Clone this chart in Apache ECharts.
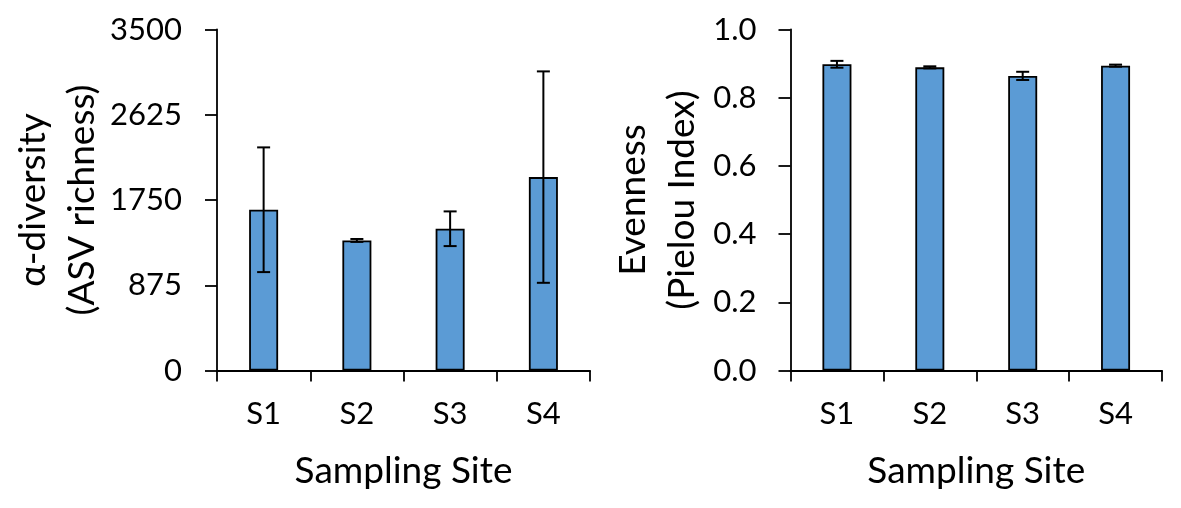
<!DOCTYPE html>
<html>
<head>
<meta charset="utf-8">
<script src="https://cdn.jsdelivr.net/npm/echarts@6/dist/echarts.min.js"></script>
<style>
  html, body { margin: 0; padding: 0; background: #fff; }
  #chart { width: 1181px; height: 508px; }
</style>
</head>
<body>
<div id="chart"></div>
<script>
const sites = ['S1', 'S2', 'S3', 'S4']
const richness = [1650, 1335, 1455, 1985]
const richnessErr = [640, 15, 178, 1085]
const evenness = [0.898, 0.889, 0.864, 0.894]
const evennessErr = [0.010, 0.003, 0.012, 0.003]
const richnessTicks = { min: 0, max: 3500, interval: 875 }
const evennessTicks = { min: 0, max: 1, interval: 0.2 }

const font = 'Lato, "Open Sans", sans-serif'
const barColor = '#5B9BD5'

const chart = echarts.init(document.getElementById('chart'))

// error bar: vertical line with caps, drawn from [index, mean, err]
function errorItem(params, api) {
  const i = api.value(0)
  const mean = api.value(1)
  const err = api.value(2)
  const top = api.coord([i, mean + err])
  const bottom = api.coord([i, mean - err])
  const half = 6.5
  const style = { stroke: '#000', lineWidth: 2 }
  return {
    type: 'group',
    children: [
      { type: 'line', shape: { x1: top[0], y1: top[1], x2: bottom[0], y2: bottom[1] }, style },
      { type: 'line', shape: { x1: top[0] - half, y1: top[1], x2: top[0] + half, y2: top[1] }, style },
      { type: 'line', shape: { x1: bottom[0] - half, y1: bottom[1], x2: bottom[0] + half, y2: bottom[1] }, style }
    ]
  }
}

function xAxis(gridIndex) {
  return {
    type: 'category',
    gridIndex,
    data: sites,
    name: 'Sampling Site',
    nameLocation: 'middle',
    nameGap: 82,
    nameTextStyle: { fontFamily: font, fontSize: 37, color: '#000', lineHeight: 37 },
    axisLine: { lineStyle: { color: '#000', width: 1.8 } },
    axisTick: { show: true, length: 11, lineStyle: { color: '#000', width: 1.8 } },
    axisLabel: { fontFamily: font, fontSize: 31, color: '#000', margin: 27, lineHeight: 32 },
    splitLine: { show: false }
  }
}

function yAxis(gridIndex, ticks, name, nameGap, margin, fmt) {
  return {
    type: 'value',
    gridIndex,
    min: ticks.min,
    max: ticks.max,
    interval: ticks.interval,
    name,
    nameLocation: 'middle',
    nameGap,
    nameTextStyle: { fontFamily: font, fontSize: 37, color: '#000', lineHeight: 49 },
    axisLine: { show: true, lineStyle: { color: '#000', width: 1.8 } },
    axisTick: { show: true, length: 12, lineStyle: { color: '#000', width: 1.8 } },
    axisLabel: { fontFamily: font, fontSize: 31, color: '#000', margin, formatter: fmt },
    splitLine: { show: false }
  }
}

chart.setOption({
  animation: false,
  grid: [
    { left: 217, right: 591, top: 29.5, bottom: 137.5 },
    { left: 790.5, right: 19, top: 29.5, bottom: 137.5 }
  ],
  xAxis: [xAxis(0), xAxis(1)],
  yAxis: [
    yAxis(0, richnessTicks, 'α-diversity\n(ASV richness)', 110, 35, v => String(v)),
    yAxis(1, evennessTicks, 'Evenness\n(Pielou Index)', 84, 34, v => v.toFixed(1))
  ],
  series: [
    {
      type: 'bar',
      xAxisIndex: 0,
      yAxisIndex: 0,
      data: richness,
      barWidth: 29,
      itemStyle: { color: barColor, borderColor: '#000', borderWidth: 1.8 }
    },
    {
      type: 'custom',
      xAxisIndex: 0,
      yAxisIndex: 0,
      data: richness.map((v, i) => [i, v, richnessErr[i]]),
      renderItem: errorItem,
      z: 5
    },
    {
      type: 'bar',
      xAxisIndex: 1,
      yAxisIndex: 1,
      data: evenness,
      barWidth: 29,
      itemStyle: { color: barColor, borderColor: '#000', borderWidth: 1.8 }
    },
    {
      type: 'custom',
      xAxisIndex: 1,
      yAxisIndex: 1,
      data: evenness.map((v, i) => [i, v, evennessErr[i]]),
      renderItem: errorItem,
      z: 5
    }
  ]
})
</script>
</body>
</html>
